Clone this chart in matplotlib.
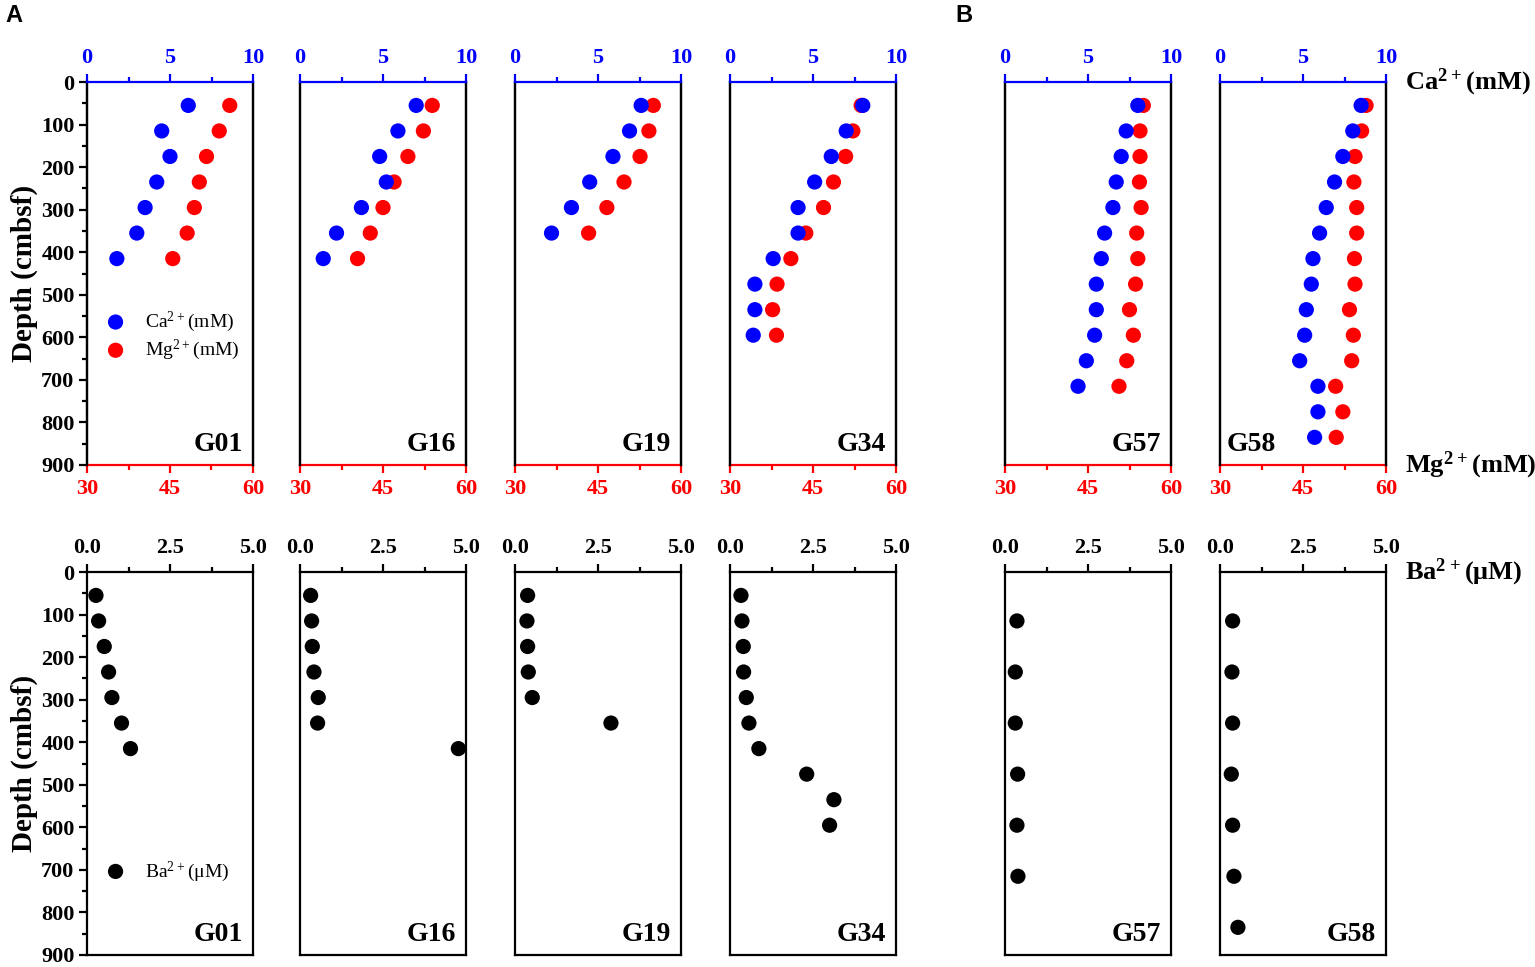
import matplotlib
matplotlib.use("Agg")
import matplotlib.pyplot as plt
from matplotlib.ticker import MultipleLocator, FormatStrFormatter

plt.rcParams['font.family'] = ['Liberation Serif', 'DejaVu Serif']
plt.rcParams['font.weight'] = 'bold'
plt.rcParams['mathtext.fontset'] = 'custom'
plt.rcParams['mathtext.rm'] = 'Liberation Serif:weight=normal'
plt.rcParams['mathtext.bf'] = 'Liberation Serif:weight=bold'

# depth of each sample (cmbsf)
depth = [55, 115, 175, 235, 295, 355, 415, 475, 535, 595, 655, 715, 775, 835]
depth_ba_b = [115, 235, 355, 475, 595, 715, 835]

sites = ['G01', 'G16', 'G19', 'G34', 'G57', 'G58']

# Ca2+ (mM), Mg2+ (mM)
ca_g01 = [6.1, 4.5, 5.0, 4.2, 3.5, 3.0, 1.8]
mg_g01 = [55.8, 53.9, 51.6, 50.3, 49.4, 48.1, 45.5]
ca_g16 = [7.0, 5.9, 4.8, 5.2, 3.7, 2.2, 1.4]
mg_g16 = [53.9, 52.3, 49.5, 47.0, 45.0, 42.7, 40.4]
ca_g19 = [7.6, 6.9, 5.9, 4.5, 3.4, 2.2]
mg_g19 = [55.0, 54.2, 52.6, 49.7, 46.6, 43.3]
ca_g34 = [8.0, 7.0, 6.1, 5.1, 4.1, 4.1, 2.6, 1.5, 1.5, 1.4]
mg_g34 = [53.7, 52.2, 50.9, 48.7, 46.9, 43.7, 41.0, 38.5, 37.7, 38.4]
ca_g57 = [8.0, 7.3, 7.0, 6.7, 6.5, 6.0, 5.8, 5.5, 5.5, 5.4, 4.9, 4.4]
mg_g57 = [55.0, 54.4, 54.4, 54.3, 54.6, 53.8, 54.0, 53.6, 52.5, 53.2, 52.0, 50.6]
ca_g58 = [8.5, 8.0, 7.4, 6.9, 6.4, 6.0, 5.6, 5.5, 5.2, 5.1, 4.8, 5.9, 5.9, 5.7]
mg_g58 = [56.4, 55.6, 54.4, 54.2, 54.7, 54.7, 54.3, 54.4, 53.4, 54.1, 53.8, 50.9, 52.2, 51.0]

# Ba2+ (uM)
ba_g01 = [0.27, 0.35, 0.52, 0.65, 0.75, 1.04, 1.31]
ba_g16 = [0.32, 0.35, 0.37, 0.42, 0.55, 0.53, 4.77]
ba_g19 = [0.38, 0.36, 0.38, 0.40, 0.52, 2.89]
ba_g34 = [0.33, 0.36, 0.40, 0.41, 0.49, 0.57, 0.87, 2.31, 3.13, 3.00]
ba_g57 = [0.36, 0.31, 0.31, 0.38, 0.36, 0.39]
ba_g58 = [0.38, 0.36, 0.38, 0.34, 0.38, 0.42, 0.54]

ca_all = [ca_g01, ca_g16, ca_g19, ca_g34, ca_g57, ca_g58]
mg_all = [mg_g01, mg_g16, mg_g19, mg_g34, mg_g57, mg_g58]
ba_all = [ba_g01, ba_g16, ba_g19, ba_g34, ba_g57, ba_g58]
ba_depths = [depth, depth, depth, depth, depth_ba_b, depth_ba_b]

W, H = 1535, 967
fig = plt.figure(figsize=(W / 100, H / 100), dpi=100)

lefts = [87, 300, 515, 730, 1005, 1220]
pw = 166
top_y = (82, 465)
bot_y = (572, 955)
ms = 120
lw = 1.6
tick_fs = 16


def rect(x0, y0, y1):
    return [x0 / W, 1 - y1 / H, pw / W, (y1 - y0) / H]


def depth_axis(ax, show):
    ax.set_ylim(900, 0)
    ax.yaxis.set_major_locator(MultipleLocator(100))
    ax.yaxis.set_minor_locator(MultipleLocator(50))
    if show:
        ax.tick_params(axis='y', which='major', direction='out', length=6, width=lw, labelsize=tick_fs, pad=3)
        ax.tick_params(axis='y', which='minor', direction='out', length=3.5, width=lw)
        ax.set_ylabel('Depth (cmbsf)', fontsize=21, fontweight='bold', labelpad=2)
    else:
        ax.tick_params(axis='y', which='both', left=False, labelleft=False)


for i, site in enumerate(sites):
    # top row: Ca on the top axis, Mg on the bottom axis
    ax = fig.add_axes(rect(lefts[i], *top_y))
    ax2 = ax.twiny()
    n = len(ca_all[i])
    mg_h = ax.scatter(mg_all[i], depth[:n], s=ms, color='#ff0000', edgecolors='none', zorder=3)
    ca_h = ax2.scatter(ca_all[i], depth[:n], s=ms, color='#0000ff', edgecolors='none', zorder=3)
    ax.set_xlim(30, 60)
    ax2.set_xlim(0, 10)
    depth_axis(ax, i == 0)
    ax2.set_ylim(900, 0)

    ax.xaxis.set_major_locator(MultipleLocator(15))
    ax.xaxis.set_minor_locator(MultipleLocator(7.5))
    ax.tick_params(axis='x', which='major', colors='red', length=6, width=lw, labelsize=tick_fs, pad=4)
    ax.tick_params(axis='x', which='minor', colors='red', length=3.5, width=lw)
    ax2.xaxis.set_major_locator(MultipleLocator(5))
    ax2.xaxis.set_minor_locator(MultipleLocator(2.5))
    ax2.tick_params(axis='x', which='major', colors='blue', length=6, width=lw, labelsize=tick_fs, pad=4)
    ax2.tick_params(axis='x', which='minor', colors='blue', length=3.5, width=lw)

    for sp in list(ax.spines.values()) + list(ax2.spines.values()):
        sp.set_linewidth(lw)
    ax.spines['bottom'].set_color('red')
    ax.spines['top'].set_visible(False)
    ax2.spines['top'].set_color('blue')
    ax2.spines['bottom'].set_visible(False)

    if site == 'G58':
        ax.text(0.04, 0.02, site, transform=ax.transAxes, fontsize=20, fontweight='bold', ha='left', va='bottom')
    else:
        ax.text(0.94, 0.02, site, transform=ax.transAxes, fontsize=20, fontweight='bold', ha='right', va='bottom')

    if i == 0:
        ax2.legend([ca_h, mg_h], [r'$\mathrm{Ca^{2+}}$(mM)', r'$\mathrm{Mg^{2+}}$(mM)'],
                   loc='upper left', bbox_to_anchor=(0.008, 0.4256), frameon=False,
                   prop={'weight': 'normal', 'size': 14}, handletextpad=0.5,
                   labelspacing=0.2, borderaxespad=0)

    # bottom row: Ba on the top axis
    axb = fig.add_axes(rect(lefts[i], *bot_y))
    m = len(ba_all[i])
    ba_h = axb.scatter(ba_all[i], ba_depths[i][:m], s=ms, color='black', edgecolors='none', zorder=3)
    axb.set_xlim(0, 5)
    depth_axis(axb, i == 0)
    axb.xaxis.tick_top()
    axb.xaxis.set_major_locator(MultipleLocator(2.5))
    axb.xaxis.set_minor_locator(MultipleLocator(1.25))
    axb.xaxis.set_major_formatter(FormatStrFormatter('%.1f'))
    axb.tick_params(axis='x', which='major', length=6, width=lw, labelsize=tick_fs, pad=4)
    axb.tick_params(axis='x', which='minor', length=3.5, width=lw)
    for sp in axb.spines.values():
        sp.set_linewidth(lw)
    axb.text(0.94, 0.02, site, transform=axb.transAxes, fontsize=20, fontweight='bold', ha='right', va='bottom')
    if i == 0:
        axb.legend([ba_h], [r'$\mathrm{Ba^{2+}}$(μM)'], loc='upper left',
                   bbox_to_anchor=(0.008, 0.2705), frameon=False,
                   prop={'weight': 'normal', 'size': 14}, handletextpad=0.5, borderaxespad=0)

# right-hand axis titles
fig.text(1405 / W, 1 - 82 / H, r'$\mathbf{Ca^{2+}}$(mM)', fontsize=19, fontweight='bold', va='center', ha='left')
fig.text(1405 / W, 1 - 465 / H, r'$\mathbf{Mg^{2+}}$(mM)', fontsize=19, fontweight='bold', va='center', ha='left')
fig.text(1405 / W, 1 - 572 / H, r'$\mathbf{Ba^{2+}}$(μM)', fontsize=19, fontweight='bold', va='center', ha='left')

# panel letters
fig.text(5 / W, 1 - 16 / H, 'A', fontsize=17, fontweight='bold', family='Liberation Sans', va='center')
fig.text(955 / W, 1 - 16 / H, 'B', fontsize=17, fontweight='bold', family='Liberation Sans', va='center')

fig.savefig('out.png', dpi=100)
